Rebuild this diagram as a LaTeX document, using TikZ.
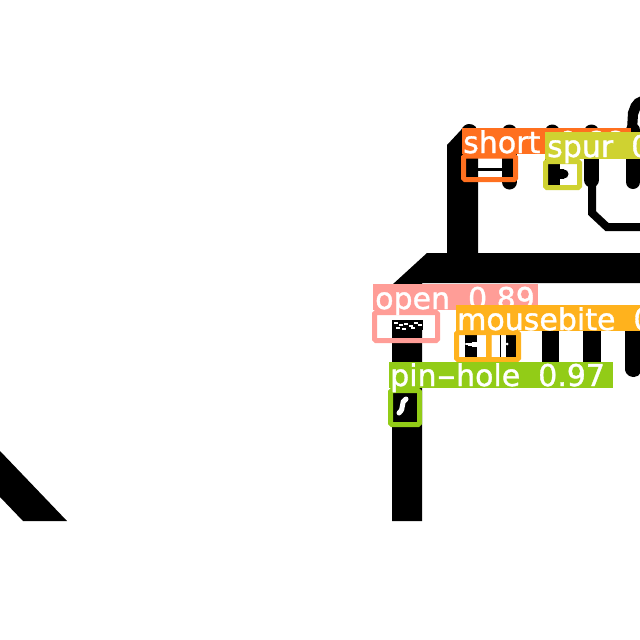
\documentclass[tikz,border=0pt]{standalone}
\usepackage{fontspec}
\setmainfont[FakeBold=1.2]{DejaVu Sans}
\definecolor{cshort}{HTML}{FF701F}
\definecolor{cspur}{HTML}{CFD231}
\definecolor{copen}{HTML}{FF9D97}
\definecolor{cmouse}{HTML}{FFB21D}
\definecolor{cpin}{HTML}{92CC17}
\newcommand{\labelfontset}{\fontsize{30}{30}\selectfont\spaceskip 18pt\relax}
\tikzset{
  lab/.style={text=white,inner sep=0pt,anchor=base west,font=\labelfontset},
  frame/.style={line width=5pt,rounded corners=1.5pt},
  pad/.style={line width=15pt,line cap=round,black},
  ink/.style={fill=black,draw=none}
}
\begin{document}
\begin{tikzpicture}[x=1pt,y=-1pt]
\useasboundingbox (0,0) rectangle (640,640);
\clip (0,0) rectangle (640,640);
\fill[white] (0,0) rectangle (640,640);
% copper
\fill[ink] (0,451) -- (67,521) -- (23,521) -- (0,497) -- cycle;
\fill[ink] (392,521) -- (392,285) -- (427,253) -- (640,253) -- (640,283) -- (422,283) -- (422,521) -- cycle;
\fill[ink] (447,253) -- (447,145) -- (461,130) .. controls (463,126) and (466,124) .. (469,124) .. controls (474,124) and (478,127) .. (478,135) -- (478,253) -- cycle;
% upper pads
\draw[pad] (509.5,132) -- (509.5,182);
\draw[pad] (552,132) -- (552,181);
\draw[pad] (591.5,132) -- (591.5,180);
\draw[pad,line width=14pt] (633,130) -- (633,182);
\fill[ink] (641,96) -- (635,99) -- (631,104) -- (628,112) -- (627,130) -- (637,130) -- (638,115) -- (641,107) -- cycle;
\draw[black,line width=8pt] (592,185) -- (592,213) -- (607,227) -- (645,227);
\fill[ink] (478,168) rectangle (502,171);
% spur nub and white cut
\fill[white] (560,162) rectangle (578,186);
\fill[ink] (555,162) rectangle (560,186);
\fill[ink] (559,169) rectangle (564,179);
\fill[ink] (564,174) circle (4.5);
% lower pads
\fill[ink] (465,310) rectangle (477,362);
\fill[ink] (506,310) rectangle (516,362);
\fill[ink] (500,333) rectangle (501,357);
\fill[ink] (542,310) rectangle (559,362);
\fill[ink] (583,310) rectangle (601,362);
\fill[ink] (625,310) -- (625,370) .. controls (626,375) and (630,377) .. (634,377) .. controls (637,377) and (640,375) .. (641,372) -- (641,310) -- cycle;
\fill[white] (467,344) ellipse (2 and 1);
\fill[white] (472,342) rectangle (477,347);
\fill[white] (468,343) rectangle (473,346);
\fill[white] (507,344) circle (1.5);
% open defect
\fill[white] (378,314) rectangle (435,330);
\fill[ink] (392,320) rectangle (423,330);
\foreach \a/\b in {394/322,399/324,404/323,409/325,414/322,418/324,396/327,402/328,411/327}
  \fill[white] (\a,\b) rectangle +(4,1.5);
\fill[white] (378,330) rectangle (392,339);
\fill[white] (423,330) rectangle (435,339);
% pin hole
\draw[white,line width=5pt,line cap=round] (406,399) .. controls (400,402) and (405,408) .. (399,413);
% labelled boxes
\draw[frame,copen] (374.5,312.5) rectangle (437.5,340.5);
\fill[copen] (373,284) rectangle (538,310);
\node[lab] (openlabel) at (375,309) {open 0.89};
\draw[frame,cshort] (463.5,156) rectangle (515.5,179.5);
\fill[cshort] (462,128) rectangle (631,154);
\node[lab] (shortlabel) at (463,153) {short 0.88};
\draw[frame,cspur] (545.5,161.5) rectangle (579.5,187.5);
\fill[cspur] (545,132) rectangle (640,159);
\node[lab] (spurlabel) at (547,157) {spur 0};
\draw[frame,cmouse] (456.5,332.5) rectangle (489,359.5);
\draw[frame,cmouse] (488.5,332.5) rectangle (518.5,359.5);
\fill[cmouse] (456,305) rectangle (640,331);
\node[lab] (mouselabel) at (457,330) {mousebite 0};
\draw[frame,cpin] (390.5,390.5) rectangle (419.5,424.5);
\fill[cpin] (389,362) rectangle (613,388);
\node[lab] (pinlabel) at (390,386) {pin\scalebox{1.8}[1]{-}hole 0.97};
\end{tikzpicture}
\end{document}
